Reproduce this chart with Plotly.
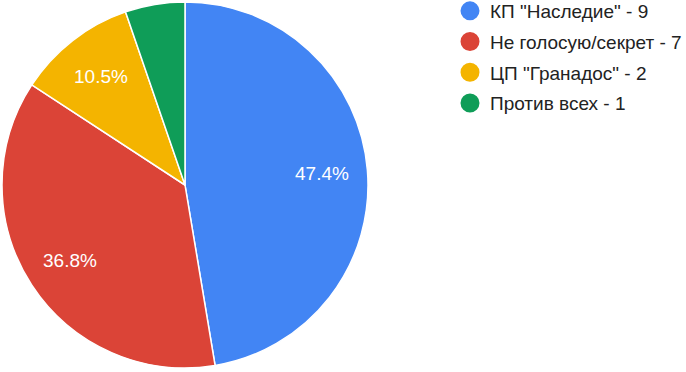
import math
import plotly.graph_objects as go

labels = ['КП "Наследие"', 'Не голосую/секрет', 'ЦП "Гранадос"', 'Против всех']
values = [9, 7, 2, 1]
colors = ['#4285F4', '#DB4437', '#F4B400', '#0F9D58']
legend_names = [f'{l} - {v}' for l, v in zip(labels, values)]
show_label = [True, True, True, False]

W, H = 686, 372
CX, CY, R = 185, 185, 183  # pie centre / radius in pixels

fig = go.Figure()
fig.add_trace(go.Pie(
    labels=labels, values=values, sort=False, direction='clockwise', rotation=0,
    marker=dict(colors=colors, line=dict(color='white', width=1.5)),
    textinfo='none', showlegend=False, hoverinfo='label+percent',
    domain=dict(x=[(CX - R) / W, (CX + R) / W], y=[(H - CY - R) / H, (H - CY + R) / H]),
))

# percentage labels placed along each slice bisector, Google-chart style
total = sum(values)
cum = 0
for v, s in zip(values, show_label):
    mid = (cum + v / 2) / total * 2 * math.pi
    cum += v
    if not s:
        continue
    r = 0.75 * R
    px = CX + r * math.sin(mid)
    py = CY - r * math.cos(mid)
    fig.add_annotation(x=px / W, y=1 - py / H, xref='paper', yref='paper',
                       xanchor='center', yanchor='middle',
                       text=f'{v / total * 100:.1f}%', showarrow=False,
                       font=dict(color='white', size=19, family='Arial'))

for i, (n, c) in enumerate(zip(legend_names, colors)):
    fig.add_trace(go.Scatter(
        x=[None], y=[None], mode='markers', name=n,
        marker=dict(symbol='circle', size=16, color=c, line=dict(color=c, width=3)),
        legendgroup=f'g{i}', showlegend=True,
    ))

fig.update_layout(
    width=W, height=H, margin=dict(l=0, r=0, t=0, b=0, autoexpand=False),
    paper_bgcolor='white', plot_bgcolor='white',
    xaxis=dict(visible=False), yaxis=dict(visible=False),
    legend=dict(x=450 / W, y=1 + 8 / H, xanchor='left', yanchor='top',
                font=dict(family='Arial', size=19, color='#222222'),
                tracegroupgap=3, itemsizing='trace'),
)
fig.write_html('out.html', config={'displayModeBar': False},
               post_script="document.body.style.margin='0';")
